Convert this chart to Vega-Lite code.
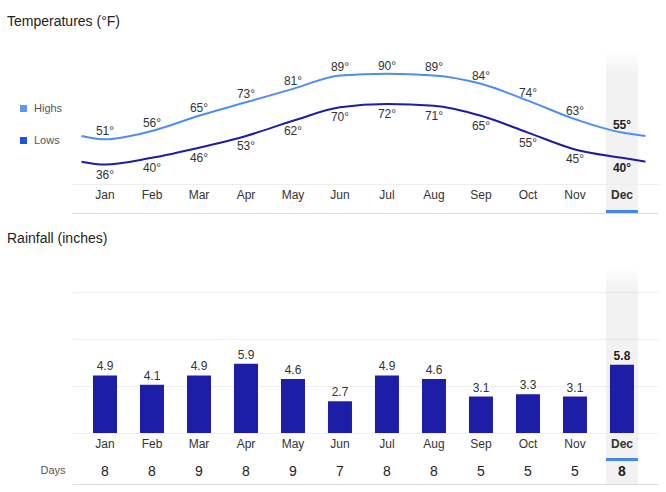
{
  "$schema": "https://vega.github.io/schema/vega-lite/v6.json",
  "padding": {"left": 7, "top": 15, "right": 5, "bottom": 5},
  "background": "white",
  "spacing": 19,
  "config": {
    "font": "Liberation Sans",
    "view": {"stroke": null},
    "title": {"anchor": "start", "frame": "group", "fontSize": 14, "fontWeight": "normal", "color": "#222222", "font": "Liberation Sans"},
    "text": {"font": "Liberation Sans"}
  },
  "datasets": {
    "weather": [
      {"month": "Jan", "high": 51, "low": 36, "rain": 4.9, "days": 8},
      {"month": "Feb", "high": 56, "low": 40, "rain": 4.1, "days": 8},
      {"month": "Mar", "high": 65, "low": 46, "rain": 4.9, "days": 9},
      {"month": "Apr", "high": 73, "low": 53, "rain": 5.9, "days": 8},
      {"month": "May", "high": 81, "low": 62, "rain": 4.6, "days": 9},
      {"month": "Jun", "high": 89, "low": 70, "rain": 2.7, "days": 7},
      {"month": "Jul", "high": 90, "low": 72, "rain": 4.9, "days": 8},
      {"month": "Aug", "high": 89, "low": 71, "rain": 4.6, "days": 8},
      {"month": "Sep", "high": 84, "low": 65, "rain": 3.1, "days": 5},
      {"month": "Oct", "high": 74, "low": 55, "rain": 3.3, "days": 5},
      {"month": "Nov", "high": 63, "low": 45, "rain": 3.1, "days": 5},
      {"month": "Dec", "high": 55, "low": 40, "rain": 5.8, "days": 8}
    ],
    "tempLine": [
      {"m": 0.5, "high": 53, "low": 37.7},
      {"m": 1, "high": 51, "low": 36},
      {"m": 2, "high": 56, "low": 40},
      {"m": 3, "high": 65, "low": 46},
      {"m": 4, "high": 73, "low": 53},
      {"m": 5, "high": 81, "low": 62},
      {"m": 6, "high": 89, "low": 70},
      {"m": 7, "high": 90, "low": 72},
      {"m": 8, "high": 89, "low": 71},
      {"m": 9, "high": 84, "low": 65},
      {"m": 10, "high": 74, "low": 55},
      {"m": 11, "high": 63, "low": 45},
      {"m": 12, "high": 55, "low": 40},
      {"m": 12.5, "high": 53, "low": 37.7}
    ]
  },
  "vconcat": [
    {
      "width": 586,
      "height": 162,
      "title": {"text": "Temperatures (°F)", "dx": -65, "offset": 22},
      "resolve": {"scale": {"x": "independent"}, "axis": {"x": "independent"}},
      "layer": [
        {
          "data": {"name": "weather"},
          "encoding": {
            "x": {
              "field": "month", "type": "nominal", "sort": null,
              "scale": {"domain": ["Jan", "Feb", "Mar", "Apr", "May", "Jun", "Jul", "Aug", "Sep", "Oct", "Nov", "Dec"], "paddingInner": 0.3191, "paddingOuter": 0.394, "align": 0.459},
              "axis": {
                "title": null, "orient": "bottom", "offset": -29, "ticks": false, "tickSize": 0, "zindex": 1,
                "labelPadding": 5, "labelFontSize": 12, "labelColor": "#333333", "labelAngle": 0,
                "labelFont": "Liberation Sans",
                "labelFontWeight": {"condition": {"test": "datum.value === 'Dec'", "value": "bold"}, "value": "normal"},
                "domain": true, "domainColor": "#eeeeee", "domainWidth": 1
              }
            }
          },
          "layer": [
            {
              "transform": [{"filter": "datum.month === 'Dec'"}],
              "mark": {"type": "bar", "color": {"gradient": "linear", "x1": 0, "y1": 0, "x2": 0, "y2": 1, "stops": [{"offset": 0, "color": "rgba(0,0,0,0)"}, {"offset": 0.14, "color": "rgba(0,0,0,0.051)"}, {"offset": 1, "color": "rgba(0,0,0,0.051)"}]}}
            },
            {
              "transform": [{"filter": "datum.month === 'Dec'"}],
              "mark": {"type": "bar", "color": "#4285f4"},
              "encoding": {
                "y": {
                  "datum": 7.2, "type": "quantitative",
                  "scale": {"domain": [7.2, 103.5], "nice": false, "zero": false},
                  "axis": {"title": null, "values": [7.2], "grid": true, "gridColor": "#dadce0", "labels": false, "ticks": false, "domain": false}
                },
                "y2": {"datum": 9.0}
              }
            },
            {
              "transform": [{"filter": "datum.month !== 'Dec'"}],
              "mark": {"type": "text", "baseline": "alphabetic", "dy": -4, "fontSize": 12, "color": "#333333", "text": {"expr": "datum.high + '°'"}},
              "encoding": {"y": {"field": "high", "type": "quantitative", "scale": {"domain": [7.2, 103.5], "nice": false, "zero": false}}}
            },
            {
              "transform": [{"filter": "datum.month === 'Dec'"}],
              "mark": {"type": "text", "baseline": "alphabetic", "dy": -4, "fontSize": 12, "fontWeight": "bold", "color": "#222222", "text": {"expr": "datum.high + '°'"}},
              "encoding": {"y": {"field": "high", "type": "quantitative", "scale": {"domain": [7.2, 103.5], "nice": false, "zero": false}}}
            },
            {
              "transform": [{"filter": "datum.month !== 'Dec'"}],
              "mark": {"type": "text", "baseline": "alphabetic", "dy": 14, "fontSize": 12, "color": "#333333", "text": {"expr": "datum.low + '°'"}},
              "encoding": {"y": {"field": "low", "type": "quantitative", "scale": {"domain": [7.2, 103.5], "nice": false, "zero": false}}}
            },
            {
              "transform": [{"filter": "datum.month === 'Dec'"}],
              "mark": {"type": "text", "baseline": "alphabetic", "dy": 14, "fontSize": 12, "fontWeight": "bold", "color": "#222222", "text": {"expr": "datum.low + '°'"}},
              "encoding": {"y": {"field": "low", "type": "quantitative", "scale": {"domain": [7.2, 103.5], "nice": false, "zero": false}}}
            }
          ]
        },
        {
          "data": {"name": "tempLine"},
          "transform": [{"fold": ["high", "low"], "as": ["key", "value"]}],
          "mark": {"type": "line", "interpolate": "monotone", "strokeWidth": 2},
          "encoding": {
            "x": {"field": "m", "type": "quantitative", "scale": {"domain": [0.2978, 12.767], "nice": false, "zero": false}, "axis": null},
            "y": {"field": "value", "type": "quantitative", "scale": {"domain": [7.2, 103.5], "nice": false, "zero": false}},
            "color": {
              "field": "key", "type": "nominal",
              "scale": {"domain": ["high", "low"], "range": ["#4d8ef3", "#1d1ca5"]},
              "legend": {
                "orient": "none", "legendX": -54, "legendY": 52, "title": null,
                "symbolType": "square", "symbolSize": 49, "symbolStrokeWidth": 0,
                "labelFontSize": 11, "labelColor": "#555555", "labelFont": "Liberation Sans",
                "labelOffset": 5, "rowPadding": 20, "padding": 0,
                "labelExpr": "datum.value === 'high' ? 'Highs' : 'Lows'",
                "encode": {"symbols": {"update": {"fill": {"signal": "datum.value === 'low' ? '#1a56db' : '#5b97f2'"}, "strokeWidth": {"value": 0}}}}
              }
            }
          }
        }
      ]
    },
    {
      "width": 586,
      "height": 216,
      "title": {"text": "Rainfall (inches)", "dx": -65, "offset": 22},
      "data": {"name": "weather"},
      "encoding": {
        "x": {
          "field": "month", "type": "nominal", "sort": null,
          "scale": {"domain": ["Jan", "Feb", "Mar", "Apr", "May", "Jun", "Jul", "Aug", "Sep", "Oct", "Nov", "Dec"], "paddingInner": 0.3191, "paddingOuter": 0.394, "align": 0.459},
          "axis": {
            "title": null, "orient": "bottom", "offset": -51, "ticks": false, "tickSize": 0, "zindex": 1,
            "labelPadding": 5, "labelFontSize": 12, "labelColor": "#333333", "labelAngle": 0,
            "labelFont": "Liberation Sans",
            "labelFontWeight": {"condition": {"test": "datum.value === 'Dec'", "value": "bold"}, "value": "normal"},
            "domain": true, "domainColor": "#eeeeee", "domainWidth": 1
          }
        }
      },
      "layer": [
        {
          "transform": [{"filter": "datum.month === 'Dec'"}],
          "mark": {"type": "bar", "color": {"gradient": "linear", "x1": 0, "y1": 0, "x2": 0, "y2": 1, "stops": [{"offset": 0, "color": "rgba(0,0,0,0)"}, {"offset": 0.1, "color": "rgba(0,0,0,0.051)"}, {"offset": 1, "color": "rgba(0,0,0,0.051)"}]}}
        },
        {
          "mark": {"type": "bar", "color": "#1c1ea8", "width": {"band": 0.75}},
          "encoding": {
            "y": {
              "field": "rain", "type": "quantitative",
              "scale": {"domain": [-4.34, 14.04], "nice": false, "zero": false},
              "axis": {
                "values": [4, 8, 12, -4.34], "grid": true,
                "gridColor": {"condition": {"test": "datum.value < 0", "value": "#dadce0"}, "value": "#eeeeee"},
                "labels": false, "ticks": false, "domain": false,
                "title": "Days", "titleAngle": 0, "titleAlign": "left", "titleBaseline": "alphabetic",
                "titleX": -32, "titleY": 205.5, "titleFontSize": 11, "titleFontWeight": "normal",
                "titleColor": "#555555", "titleFont": "Liberation Sans"
              }
            },
            "y2": {"datum": 0}
          }
        },
        {
          "transform": [{"filter": "datum.month === 'Dec'"}],
          "mark": {"type": "bar", "color": "#4285f4"},
          "encoding": {
            "y": {"datum": -2.13, "type": "quantitative", "scale": {"domain": [-4.34, 14.04], "nice": false, "zero": false}},
            "y2": {"datum": -2.38}
          }
        },
        {
          "transform": [{"filter": "datum.month !== 'Dec'"}],
          "mark": {"type": "text", "baseline": "alphabetic", "dy": -5, "fontSize": 12, "color": "#333333"},
          "encoding": {
            "y": {"field": "rain", "type": "quantitative", "scale": {"domain": [-4.34, 14.04], "nice": false, "zero": false}},
            "text": {"field": "rain", "type": "quantitative", "format": ".1f"}
          }
        },
        {
          "transform": [{"filter": "datum.month === 'Dec'"}],
          "mark": {"type": "text", "baseline": "alphabetic", "dy": -5, "fontSize": 12, "fontWeight": "bold", "color": "#222222"},
          "encoding": {
            "y": {"field": "rain", "type": "quantitative", "scale": {"domain": [-4.34, 14.04], "nice": false, "zero": false}},
            "text": {"field": "rain", "type": "quantitative", "format": ".1f"}
          }
        },
        {
          "transform": [{"filter": "datum.month !== 'Dec'"}],
          "mark": {"type": "text", "baseline": "alphabetic", "fontSize": 14, "color": "#222222"},
          "encoding": {
            "y": {"datum": -3.7, "type": "quantitative", "scale": {"domain": [-4.34, 14.04], "nice": false, "zero": false}},
            "text": {"field": "days", "type": "quantitative"}
          }
        },
        {
          "transform": [{"filter": "datum.month === 'Dec'"}],
          "mark": {"type": "text", "baseline": "alphabetic", "fontSize": 14, "fontWeight": "bold", "color": "#222222"},
          "encoding": {
            "y": {"datum": -3.7, "type": "quantitative", "scale": {"domain": [-4.34, 14.04], "nice": false, "zero": false}},
            "text": {"field": "days", "type": "quantitative"}
          }
        }
      ]
    }
  ]
}
